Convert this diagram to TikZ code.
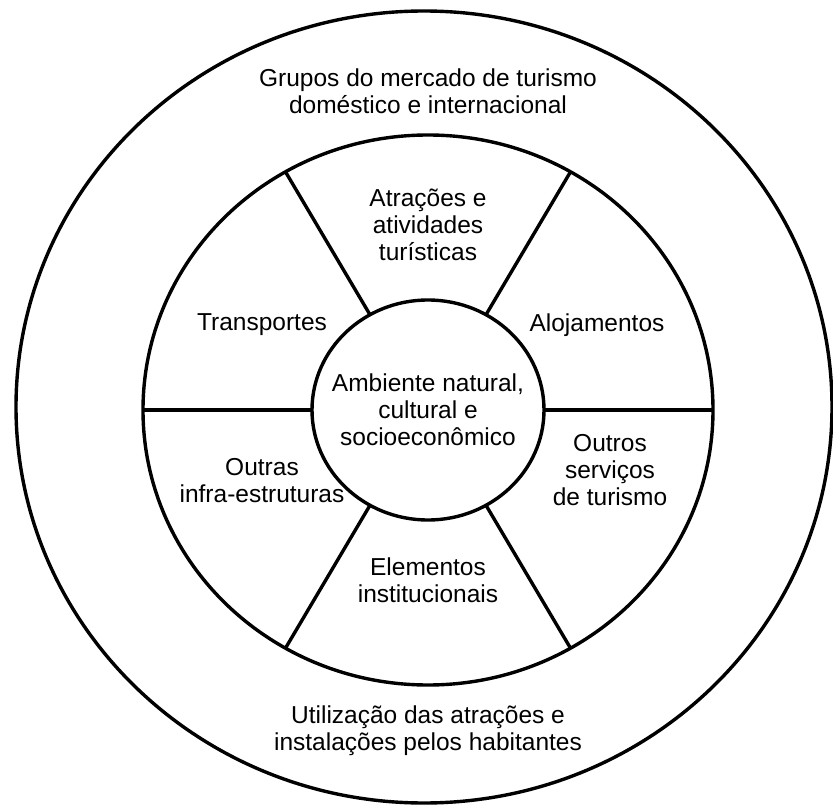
\documentclass[tikz,border=0pt]{standalone}
\usepackage{fontspec}
\setmainfont{Liberation Sans}
\usetikzlibrary{positioning,calc}

\begin{document}
\begin{tikzpicture}[x=1pt, y=-1pt, line width=3.4pt, font=\fontsize{24.5}{27}\selectfont]
  \tikzstyle{lbl}=[align=center, inner sep=0pt]
  \useasboundingbox (0,0) rectangle (833,805);
  \coordinate (c) at (428,410);
  % rings
  \draw (424,407) ellipse (408pt and 396pt);
  \draw (c) ellipse (285pt and 275pt);
  \draw (c) ellipse (116pt and 110pt);
  % spokes between the rings
  \foreach \a in {0,60,...,300} {
    \coordinate (in\a) at ($(c)+(\a:116pt and 110pt)$);
    \coordinate (out\a) at ($(c)+(\a:285pt and 275pt)$);
    \draw (in\a) -- (out\a);
  }
  % labels
  \node[lbl] (market) at (428,91) {Grupos do mercado de turismo\\doméstico e internacional};
  \node[lbl] (attr) at (428,225) {Atrações e\\atividades\\turísticas};
  \node[lbl] (transp) at (262,325) {Transportes};
  \node[lbl] (lodge) at (597,325) {Alojamentos};
  \node[lbl] (env) at (428,410) {Ambiente natural,\\cultural e\\socioeconômico};
  \node[lbl] (infra) at (262,481) {Outras\\infra-estruturas};
  \node[lbl] (serv) at (610,470) {Outros\\serviços\\de turismo};
  \node[lbl] (inst) at (428,580) {Elementos\\institucionais};
  \node[lbl] (local) at (428,731) {Utilização das atrações e\\instalações pelos habitantes};
\end{tikzpicture}
\end{document}
